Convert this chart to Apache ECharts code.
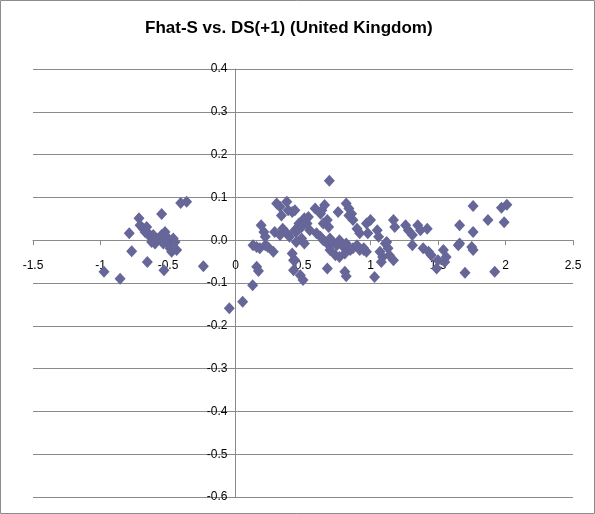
<!DOCTYPE html>
<html>
<head>
<meta charset="utf-8">
<script src="https://cdn.jsdelivr.net/npm/echarts@6/dist/echarts.min.js"></script>
<style>
html,body{margin:0;padding:0;background:#fff;}
#chart{width:595px;height:514px;}
</style>
</head>
<body>
<div id="chart"></div>
<script>
const titleText = 'Fhat-S vs. DS(+1) (United Kingdom)';
const xTickLabels = ['-1.5','-1','-0.5','0','0.5','1','1.5','2','2.5'];
const yTickLabels = ['-0.6','-0.5','-0.4','-0.3','-0.2','-0.1','0.0','0.1','0.2','0.3','0.4'];

const xValues = [
  -0.974,-0.855,-0.787,-0.769,-0.715,-0.707,-0.683,-0.658,-0.670,-0.646,-0.633,-0.609,-0.621,-0.596,-0.572,-0.547,-0.522,-0.510,-0.535,-0.498,-0.461,-0.448,-0.485,-0.473,-0.436,-0.547,-0.653,-0.530,-0.406,-0.362,-0.238,
  -0.046,0.053,0.127,0.157,0.170,0.130,0.157,0.180,0.220,0.240,0.280,0.190,0.210,0.220,0.305,0.330,0.380,0.390,0.420,0.340,0.290,0.330,0.350,0.380,0.400,0.440,0.470,0.490,0.510,0.540,0.420,0.440,0.430,0.480,0.500,0.490,0.510,0.450,
  0.440,0.510,0.530,0.550,0.450,0.430,
  0.590,0.630,0.660,0.680,0.650,0.690,0.630,0.650,0.680,0.700,0.720,0.750,0.770,0.800,0.820,0.850,0.870,0.900,0.920,0.950,0.970,0.680,0.820,0.760,0.820,0.840,0.860,0.870,0.900,0.920,0.970,0.600,0.700,0.740,0.770,0.810,0.695,0.640,0.840,0.810,
  1.000,0.980,0.950,1.050,1.060,1.030,1.110,1.130,1.070,1.090,1.140,1.170,1.080,1.170,1.180,1.120,1.260,1.280,1.310,1.350,1.370,1.420,1.310,1.390,1.430,1.450,1.500,1.540,1.560,1.550,1.490,
  1.660,1.660,1.650,1.760,1.750,1.760,1.700,1.760,1.870,1.920,1.970,2.010,1.990
];
const yValues = [
  -0.074,-0.090,0.016,-0.026,0.051,0.035,0.027,0.031,0.019,0.016,0.008,0.012,-0.004,-0.008,0.004,0.012,0.019,0.008,-0.008,-0.008,0.004,-0.004,-0.019,-0.027,-0.023,0.061,-0.051,-0.070,0.087,0.090,-0.061,
  -0.159,-0.144,-0.105,-0.062,-0.072,-0.012,-0.016,-0.019,-0.012,-0.016,-0.027,0.035,0.019,0.008,0.086,0.078,0.090,0.070,0.066,0.058,0.019,0.012,0.027,0.016,0.008,0.023,0.039,0.031,0.047,0.054,-0.031,-0.047,-0.070,-0.082,-0.093,0.004,-0.008,-0.004,
  0.070,0.051,0.039,0.023,0.019,-0.047,
  0.074,0.062,0.082,0.047,0.039,0.031,0.008,0.000,-0.008,0.004,-0.004,-0.012,0.000,-0.016,-0.008,-0.023,-0.019,-0.012,-0.023,-0.019,-0.027,-0.066,-0.084,0.066,0.086,0.074,0.062,0.047,0.027,0.016,0.039,0.016,-0.023,-0.035,-0.039,-0.031,0.139,0.070,0.058,-0.074,
  0.047,0.016,-0.023,0.023,0.008,-0.086,-0.008,-0.019,-0.027,-0.039,-0.035,-0.047,-0.051,0.047,0.031,-0.004,0.035,0.023,0.012,0.035,0.023,0.027,-0.012,-0.019,-0.027,-0.035,-0.047,-0.023,-0.039,-0.051,-0.066,
  0.035,-0.008,-0.012,0.019,-0.016,-0.023,-0.076,0.080,0.047,-0.074,0.076,0.083,0.042
];

const points = xValues.map((x, i) => [x, yValues[i]]);

const xMin = -1.5, xMax = 2.5, yMin = -0.6, yMax = 0.4;
const gridLeft = 33, gridRight = 22, gridTop = 69, gridBottom = 17;
const W = 595, H = 514;
const plotW = W - gridLeft - gridRight;
const plotH = H - gridTop - gridBottom;
// axes cross at zero: shift axes from the grid edges to the zero lines
const xAxisOffset = -plotH * (0 - yMin) / (yMax - yMin);
const yAxisOffset = -plotW * (0 - xMin) / (xMax - xMin);

const chart = echarts.init(document.getElementById('chart'), null, {renderer: 'canvas'});
const gridColor = '#8a8a8a';
chart.setOption({
  animation: false,
  backgroundColor: '#ffffff',
  title: {
    text: titleText,
    left: 140,
    top: 15,
    textStyle: {
      fontFamily: "'Liberation Sans', sans-serif",
      fontWeight: 'bold',
      fontSize: 17,
      color: '#000'
    }
  },
  graphic: [{
    type: 'rect',
    shape: {x: 0.5, y: 0.5, width: 594, height: 513},
    style: {fill: 'none', stroke: '#8c8c8c', lineWidth: 1},
    silent: true,
    z: 100
  }],
  grid: {left: gridLeft, right: gridRight, top: gridTop, bottom: gridBottom, containLabel: false},
  xAxis: {
    type: 'value',
    position: 'bottom',
    offset: xAxisOffset,
    min: xMin, max: xMax, interval: 0.5,
    axisLine: {show: true, onZero: false, lineStyle: {color: gridColor, width: 1}},
    axisTick: {show: true, length: 5, lineStyle: {color: gridColor}},
    axisLabel: {
      margin: 19,
      fontSize: 12,
      color: '#000',
      fontFamily: "'Liberation Sans', sans-serif",
      formatter: (v) => {
        const idx = Math.round((v - xMin) / 0.5);
        return xTickLabels[idx] !== undefined ? xTickLabels[idx] : '';
      }
    },
    splitLine: {show: false}
  },
  yAxis: {
    type: 'value',
    position: 'left',
    offset: yAxisOffset,
    min: yMin, max: yMax, interval: 0.1,
    axisLine: {show: true, onZero: false, lineStyle: {color: gridColor, width: 1}},
    axisTick: {show: true, length: 5, lineStyle: {color: gridColor}},
    axisLabel: {
      margin: 8,
      fontSize: 12,
      color: '#000',
      fontFamily: "'Liberation Sans', sans-serif",
      formatter: (v) => {
        const idx = Math.round((v - yMin) / 0.1);
        return yTickLabels[idx] !== undefined ? yTickLabels[idx] : '';
      }
    },
    splitLine: {show: true, lineStyle: {color: gridColor, width: 1}}
  },
  series: [{
    type: 'scatter',
    symbol: 'diamond',
    symbolSize: [11, 12],
    itemStyle: {color: '#666699', opacity: 1},
    data: points
  }]
});
</script>
</body>
</html>
